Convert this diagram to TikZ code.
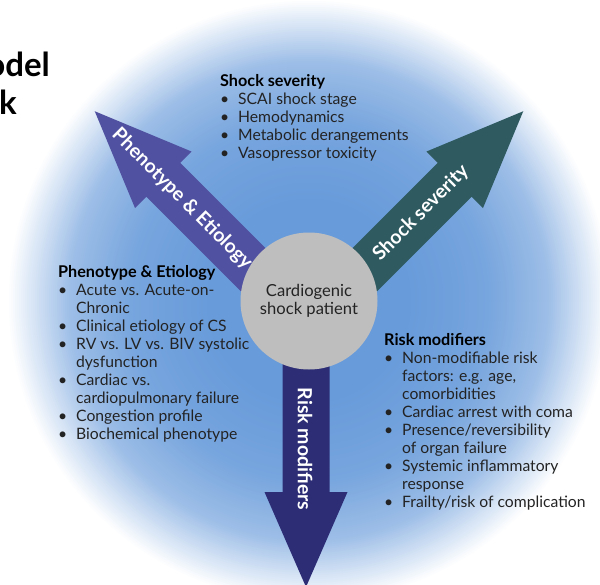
\documentclass[tikz,border=0pt]{standalone}
\usepackage{fontspec}
\setmainfont{Lato}
\usepackage{array}
\definecolor{bgA}{RGB}{104,155,218}
\definecolor{phenoC}{RGB}{80,81,160}
\definecolor{shockC}{RGB}{46,90,96}
\definecolor{riskC}{RGB}{45,45,118}
\definecolor{circC}{RGB}{190,190,190}
\definecolor{txtC}{RGB}{35,35,35}
\tikzset{
  arrowlabel/.style={text=white, font=\fontsize{19.5}{22}\selectfont\bfseries, inner sep=0pt},
  listblock/.style={anchor=base west, inner sep=0pt, text=txtC, font=\fontsize{15.7}{18}\selectfont},
  titletext/.style={anchor=base east, inner sep=0pt, font=\fontsize{33}{38}\selectfont\bfseries},
}
\newcommand{\blk}[2]{\begin{tabular}[t]{@{}>{\raggedright\arraybackslash}p{18pt}@{}l@{}}\multicolumn{2}{@{}l@{}}{\fontsize{16.2}{18}\selectfont\textbf{\color{black}#1}}\\#2\end{tabular}}
\newcommand{\bul}{\textbullet}
\begin{document}
\begin{tikzpicture}[x=1pt,y=-1pt]
\useasboundingbox (0,0) rectangle (600,584);
\clip (0,0) rectangle (600,584);
% background glow: concentric rings fading to white
\foreach \r in {302,300,...,90}{
  \pgfmathsetmacro{\p}{\r<100 ? 100 : (\r<180 ? 100-(\r-100)/8 : (\r<240 ? 90-(\r-180)*25/60 : max(0,65-(\r-240)*65/62)))}
  \fill[bgA!\p!white] (309,301) circle (\r);
}
% title fragments
\node[titletext] (title1) at (50,76) {odel};
\node[titletext] (title2) at (17,114) {k};
% arrows
\begin{scope}[shift={(309,325.5)}, rotate=45]
  \fill[phenoC] (-24,0) -- (-24,-206) -- (-40,-206) -- (0,-303) -- (40,-206) -- (24,-206) -- (24,0) -- cycle;
\end{scope}
\begin{scope}[shift={(309,325.5)}, rotate=-45]
  \fill[shockC] (-24,0) -- (-24,-206) -- (-40,-206) -- (0,-303) -- (40,-206) -- (24,-206) -- (24,0) -- cycle;
\end{scope}
\fill[riskC] (282.5,320) -- (282.5,492) -- (264.5,492) -- (306,587) -- (347.5,492) -- (329.5,492) -- (329.5,320) -- cycle;
% centre
\node[circle, fill=circC, minimum size=137pt, inner sep=0pt, align=center,
      font=\fontsize{16.6}{18.5}\selectfont, text=txtC] (patient) at (309,301)
      {Cardiogenic\\shock patient};
% arrow labels
\node[arrowlabel, rotate=-45] (lblpheno) at (182,199) {Phenotype \& Etiology};
\node[arrowlabel, rotate=45] (lblshock) at (421,213) {Shock severity};
\node[arrowlabel, rotate=-90] (lblrisk) at (305,449) {Risk modifiers};
% lists
\node[listblock] (shocklist) at (220,86) {\blk{Shock severity}{%
\bul & SCAI shock stage\\
\bul & Hemodynamics\\
\bul & Metabolic derangements\\
\bul & Vasopressor toxicity}};
\node[listblock] (phenolist) at (58,277) {\blk{Phenotype \& Etiology}{%
\bul & Acute vs. Acute-on-\\
 & Chronic\\
\bul & Clinical etiology of CS\\
\bul & RV vs. LV vs. BIV systolic\\
 & dysfunction\\
\bul & Cardiac vs.\\
 & cardiopulmonary failure\\
\bul & Congestion profile\\
\bul & Biochemical phenotype}};
\node[listblock] (risklist) at (384,345) {\blk{Risk modifiers}{%
\bul & Non-modifiable risk\\
 & factors: e.g. age,\\
 & comorbidities\\
\bul & Cardiac arrest with coma\\
\bul & Presence/reversibility\\
 & of organ failure\\
\bul & Systemic inflammatory\\
 & response\\
\bul & Frailty/risk of complication}};
\end{tikzpicture}
\end{document}
